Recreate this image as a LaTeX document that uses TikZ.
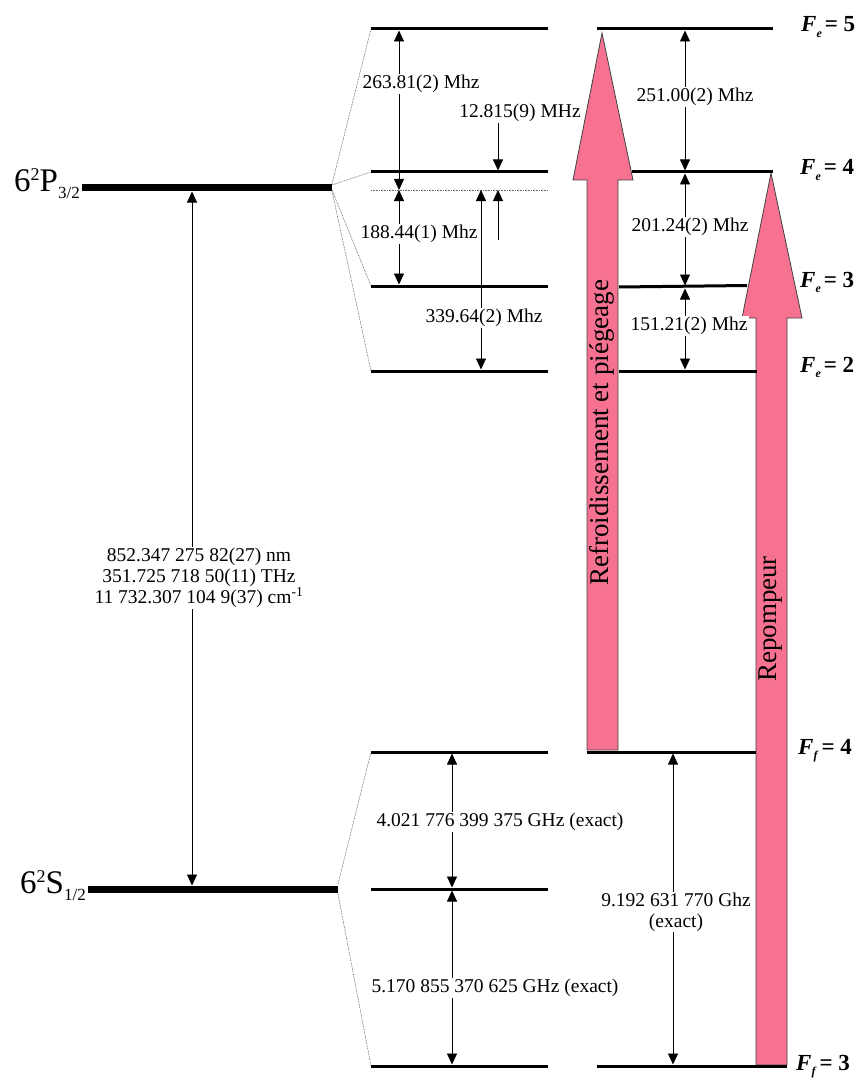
\documentclass[tikz,border=0pt]{standalone}
\usepackage{fontspec}
\setmainfont{Liberation Serif}
\usetikzlibrary{arrows.meta}
\definecolor{laser}{RGB}{246,114,144}
\newcommand\Flab[2]{\textit{F}\raisebox{-0.5ex}{\fontsize{12}{12}\selectfont\textit{#1}}\hspace{3pt}= #2}
\newcommand\Term[3]{\fontsize{33}{33}\selectfont #1\raisebox{11pt}{\fontsize{18}{18}\selectfont 2}#2\raisebox{-7pt}{\fontsize{17}{17}\selectfont #3}}
\begin{document}
\begin{tikzpicture}[x=1pt,y=-1pt,
  lvl/.style={line width=3pt},
  bar/.style={line width=7pt},
  fan/.style={black!60, line width=0.6pt, dash pattern=on 0.8pt off 0.8pt},
  cent/.style={black!60, line width=0.8pt, dash pattern=on 0.8pt off 0.8pt},
  dim/.style={line width=0.8pt, {Triangle[length=11pt,width=10pt]}-{Triangle[length=11pt,width=10pt]}},
  single/.style={line width=0.8pt, -{Triangle[length=11pt,width=10pt]}},
  lab/.style={fill=white, inner sep=1pt, font=\fontsize{19.5}{21}\selectfont},
  laserarrow/.style={fill=laser, draw=black!75, line width=0.8pt, line join=miter},
  lasertext/.style={rotate=90, inner sep=0pt, font=\fontsize{27}{27}\selectfont},
  flab/.style={anchor=base west, inner sep=0pt, font=\fontsize{23}{23}\selectfont\bfseries},
  term/.style={anchor=base east, inner sep=0pt}]
\useasboundingbox (0,0) rectangle (859,1086);

% coordinates of levels
\coordinate (Pl) at (82,188);  \coordinate (Pr) at (332,188);
\coordinate (Sl) at (88,889);  \coordinate (Sr) at (338,889);
\coordinate (P5a) at (371,29);  \coordinate (P5b) at (548,29);
\coordinate (P4a) at (371,172); \coordinate (P4b) at (548,172);
\coordinate (Pca) at (371,190); \coordinate (Pcb) at (548,190);
\coordinate (P3a) at (371,286); \coordinate (P3b) at (548,286);
\coordinate (P2a) at (371,371); \coordinate (P2b) at (548,371);
\coordinate (S4a) at (371,752); \coordinate (S4b) at (548,752);
\coordinate (Sca) at (371,889); \coordinate (Scb) at (548,889);
\coordinate (S3a) at (371,1066); \coordinate (S3b) at (548,1066);
\coordinate (R5a) at (597,29);  \coordinate (R5b) at (773,29);
\coordinate (R4a) at (632,172); \coordinate (R4b) at (773,172);
\coordinate (R3a) at (619,287); \coordinate (R3b) at (747,285.5);
\coordinate (R2a) at (619,371); \coordinate (R2b) at (757,371);
\coordinate (G4a) at (587,752); \coordinate (G4b) at (756,752);
\coordinate (G3a) at (597,1066); \coordinate (G3b) at (787,1066);
% x positions of the measuring arrows
\coordinate (xM) at (192,0);
\coordinate (xA) at (399,0);
\coordinate (xB) at (498,0);
\coordinate (xC) at (481,0);
\coordinate (xD) at (685,0);
\coordinate (xE) at (452,0);
\coordinate (xF) at (673,0);
\coordinate (tB) at (498,240);

% laser arrows
\draw[laserarrow] (587,750) -- (587,180) -- (573,180) -- (602,33) -- (633,180) -- (618,180) -- (618,750) -- cycle;
\draw[laserarrow] (756,1065) -- (756,318) -- (742,318) -- (771,173) -- (802,318) -- (787,318) -- (787,1065) -- cycle;
\node[lasertext] (tref) at (602,433) {Refroidissement et piégeage};
\node[lasertext] (trep) at (771,619) {Repompeur};

% fan lines
\draw[fan] (332,184) -- (P5a);
\draw[fan] (332,185) -- (P4a);
\draw[fan] (332,190) -- (P3a);
\draw[fan] (332,191) -- (P2a);
\draw[fan] (338,884) -- (S4a);
\draw[fan] (338,894) -- (S3a);

% fine structure bars
\draw[bar] (Pl) -- (Pr);
\draw[bar] (Sl) -- (Sr);
\node[term] (tP) at (80,192) {\Term{6}{P}{3/2}};
\node[term] (tS) at (86,893) {\Term{6}{S}{1/2}};

% hyperfine levels
\draw[lvl] (P5a) -- (P5b);
\draw[lvl] (P4a) -- (P4b);
\draw[cent] (Pca) -- (Pcb);
\draw[lvl] (P3a) -- (P3b);
\draw[lvl] (P2a) -- (P2b);
\draw[lvl] (S4a) -- (S4b);
\draw[lvl] (Sca) -- (Scb);
\draw[lvl] (S3a) -- (S3b);
\draw[lvl] (R5a) -- (R5b);
\draw[lvl] (R4a) -- (R4b);
\draw[lvl] (R3a) -- (R3b);
\draw[lvl] (R2a) -- (R2b);
\draw[lvl] (G4a) -- (G4b);
\draw[lvl] (G3a) -- (G3b);

% level labels
\node[flab] (fe5) at (801,32) {\Flab{e}{5}};
\node[flab] (fe4) at (800,175) {\Flab{e}{4}};
\node[flab] (fe3) at (800,287) {\Flab{e}{3}};
\node[flab] (fe2) at (800,372) {\Flab{e}{2}};
\node[flab] (ff4) at (798,754) {\Flab{f}{4}};
\node[flab] (ff3) at (796,1070) {\Flab{f}{3}};

% 12.815 label (its arrow starts below it)
\node[lab] (l12) at (520,113) {12.815(9) MHz};

% measuring arrows
\draw[dim, shorten <=3.5pt, shorten >=3.5pt] (xM |- Pl) -- (xM |- Sl);
\draw[dim, shorten <=1.5pt] (xA |- P5a) -- (xA |- Pca);
\draw[dim, shorten >=1.5pt] (xA |- Pca) -- (xA |- P3a);
\draw[dim, shorten >=1.5pt] (xC |- Pca) -- (xC |- P2a);
\draw[single, shorten >=1.5pt] (xB |- l12.south) -- (xB |- P4a);
\draw[single] (tB) -- (xB |- Pca);
\draw[dim, shorten <=1.5pt, shorten >=1.5pt] (xD |- R5a) -- (xD |- R4a);
\draw[dim, shorten <=1.5pt, shorten >=1.5pt] (xD |- R4a) -- (xD |- R3a);
\draw[dim, shorten <=1.5pt, shorten >=1.5pt] (xD |- R3a) -- (xD |- R2a);
\draw[dim, shorten <=1.5pt, shorten >=1.5pt] (xE |- S4a) -- (xE |- Sca);
\draw[dim, shorten <=1.5pt, shorten >=1.5pt] (xE |- Sca) -- (xE |- S3a);
\draw[dim, shorten <=1.5pt, shorten >=1.5pt] (xF |- G4a) -- (xF |- G3a);

% labels
\node[lab] (l263) at (421,84) {263.81(2) Mhz};
\node[lab] (l188) at (419,234) {188.44(1) Mhz};
\node[lab] (l339) at (484,318) {339.64(2) Mhz};
\node[lab] (l251) at (695,97) {251.00(2) Mhz};
\node[lab] (l201) at (690,227) {201.24(2) Mhz};
\node[lab] (l151) at (689,326) {151.21(2) Mhz};
\node[lab] (l4021) at (500,822) {4.021 776 399 375 GHz (exact)};
\node[lab] (l5170) at (495,988) {5.170 855 370 625 GHz (exact)};
\node[lab, align=center] (l9192) at (676,912) {9.192 631 770 Ghz\\(exact)};
\node[lab, align=center] (lmain) at (199,578) {852.347 275 82(27) nm\\351.725 718 50(11) THz\\11 732.307 104 9(37) cm\textsuperscript{-1}};
\end{tikzpicture}
\end{document}
